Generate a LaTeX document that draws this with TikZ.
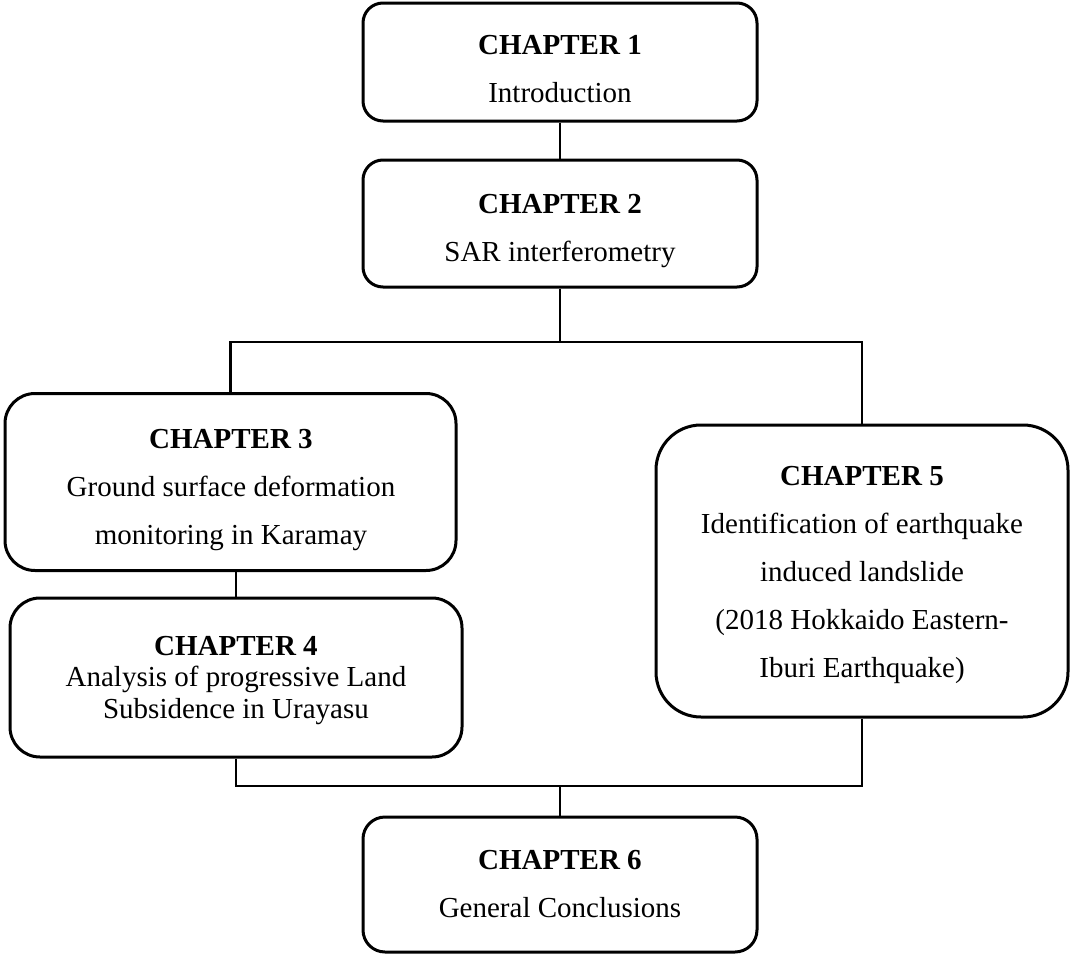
\documentclass[tikz,border=0pt]{standalone}
\usepackage{fontspec}
\setmainfont{Liberation Serif}
\begin{document}
\begin{tikzpicture}[x=1pt,y=-1pt,
  box/.style={draw=black,line width=3pt,fill=none,inner sep=0pt},
  txt/.style={align=center,inner sep=0pt,anchor=base,font=\fontsize{29}{48}\selectfont},
  txtt/.style={align=center,inner sep=0pt,anchor=base,font=\fontsize{29}{31.5}\selectfont},
  conn/.style={draw=black,line width=2.8pt}]
\useasboundingbox (0,0) rectangle (1072,956);
% boxes
\node[box,rounded corners=20pt,minimum width=394pt,minimum height=118pt] (c1) at (560,62) {};
\node[box,rounded corners=20pt,minimum width=394pt,minimum height=127pt] (c2) at (560,223.5) {};
\node[box,rounded corners=30pt,minimum width=451pt,minimum height=177pt] (c3) at (230.5,482) {};
\node[box,rounded corners=30pt,minimum width=452pt,minimum height=159pt] (c4) at (236,677.5) {};
\node[box,rounded corners=45pt,minimum width=412pt,minimum height=292pt] (c5) at (862,571) {};
\node[box,rounded corners=22pt,minimum width=394pt,minimum height=135pt] (c6) at (560,884.5) {};
% texts (anchored at the baseline of their last line)
\node[txt] (c1t) at (560,102) {\textbf{CHAPTER 1}\\Introduction};
\node[txt] (c2t) at (560,261) {\textbf{CHAPTER 2}\\SAR interferometry};
\node[txt] (c3t) at (231,544) {\textbf{CHAPTER 3}\\Ground surface deformation\\monitoring in Karamay};
\node[txtt] (c4t) at (236,718) {\textbf{CHAPTER 4}\\Analysis of progressive Land\\Subsidence in Urayasu};
\node[txt] (c5t) at (862,677) {\textbf{CHAPTER 5}\\Identification of earthquake\\induced landslide\\(2018 Hokkaido Eastern-\\Iburi Earthquake)};
\node[txt] (c6t) at (560,917) {\textbf{CHAPTER 6}\\General Conclusions};
% junctions
\coordinate (j1) at (560,342);
\coordinate (j2) at (560,786);
% connectors
\draw[conn] (c1.south) -- (c2.north);
\draw[conn] (c2.south) -- (j1);
\draw[conn] (c3.north) |- (j1) -| (c5.north);
\draw[conn] (c4.north) -- (c4.north |- c3.south);
\draw[conn] (c4.south) |- (j2) -| (c5.south);
\draw[conn] (j2) -- (c6.north);
\end{tikzpicture}
\end{document}
